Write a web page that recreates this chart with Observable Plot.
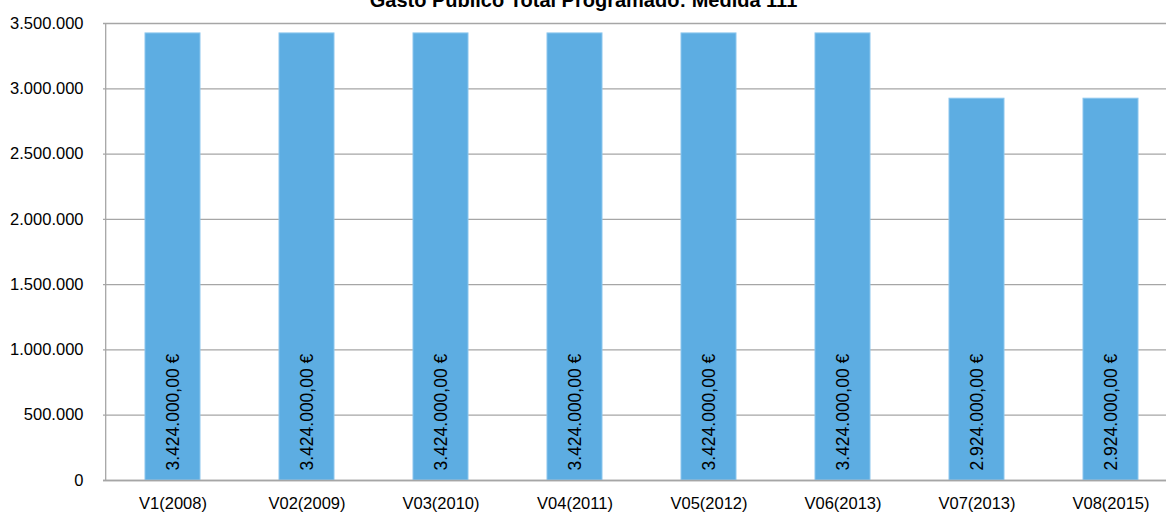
<!DOCTYPE html>
<html>
<head>
<meta charset="utf-8">
<script src="https://cdn.jsdelivr.net/npm/d3@7"></script>
<script src="https://cdn.jsdelivr.net/npm/@observablehq/plot@0.6"></script>
<style>
  html, body { margin: 0; padding: 0; background: #fff; }
  #chart svg { display: block; }
</style>
</head>
<body>
<div id="chart"></div>
<script>
const categories = ["V1(2008)", "V02(2009)", "V03(2010)", "V04(2011)", "V05(2012)", "V06(2013)", "V07(2013)", "V08(2015)"];
const values = [3424000, 3424000, 3424000, 3424000, 3424000, 3424000, 2924000, 2924000];
const yTicks = [0, 500000, 1000000, 1500000, 2000000, 2500000, 3000000, 3500000];
const title = "Gasto Público Total Programado: Medida 111";

const data = categories.map((c, i) => ({ cat: c, value: values[i] }));
const fmtTick = d => d3.format(",")(d).replace(/,/g, ".");
const fmtLabel = d => d3.format(",.2f")(d).replace(/,/g, "#").replace(".", ",").replace(/#/g, ".") + " €";

const W = 1166, ML = 103, XR = 1180;
const step = (XR - ML) / categories.length;

const chart = Plot.plot({
  width: W,
  height: 516,
  marginLeft: ML,
  marginRight: 0,
  marginTop: 23,
  marginBottom: 36,
  style: { fontFamily: "Liberation Sans, Arial, sans-serif", fontSize: "16px", overflow: "hidden" },
  x: { domain: categories, range: [ML, XR], paddingInner: 0.591, paddingOuter: 0.2955, label: null },
  y: { domain: [0, 3500000], label: null },
  marks: [
    Plot.gridY(yTicks, { stroke: "#a6a6a6", strokeOpacity: 1, strokeWidth: 1.3 }),
    Plot.barY(data, { x: "cat", y: "value", fill: "#5dade2", stroke: "#8cc6ee", strokeWidth: 1 }),
    Plot.ruleX([categories[0]], { x: d => d, dx: -step / 2, stroke: "#a6a6a6", strokeWidth: 1.3, y1: 0, y2: 3500000 }),
    Plot.ruleY([0], { stroke: "#a6a6a6", strokeWidth: 1.3 }),
    Plot.text(data, { x: "cat", y: 0, text: d => fmtLabel(d.value), rotate: -90, textAnchor: "start", dy: -10, fill: "#000", fontSize: 17.5 }),
    Plot.text([title], { frameAnchor: "top", dx: W / 2 - (ML + (W - ML) / 2), dy: -17, lineAnchor: "bottom", fontWeight: "bold", fontSize: 20, fill: "#000" }),
    Plot.axisX({ tickSize: 0, tickPadding: 17, fontSize: 16.5 }),
    Plot.axisY(yTicks, { tickFormat: fmtTick, tickSize: 0, tickPadding: 20, fontSize: 16.5 })
  ]
});
document.getElementById("chart").appendChild(chart);
</script>
</body>
</html>
